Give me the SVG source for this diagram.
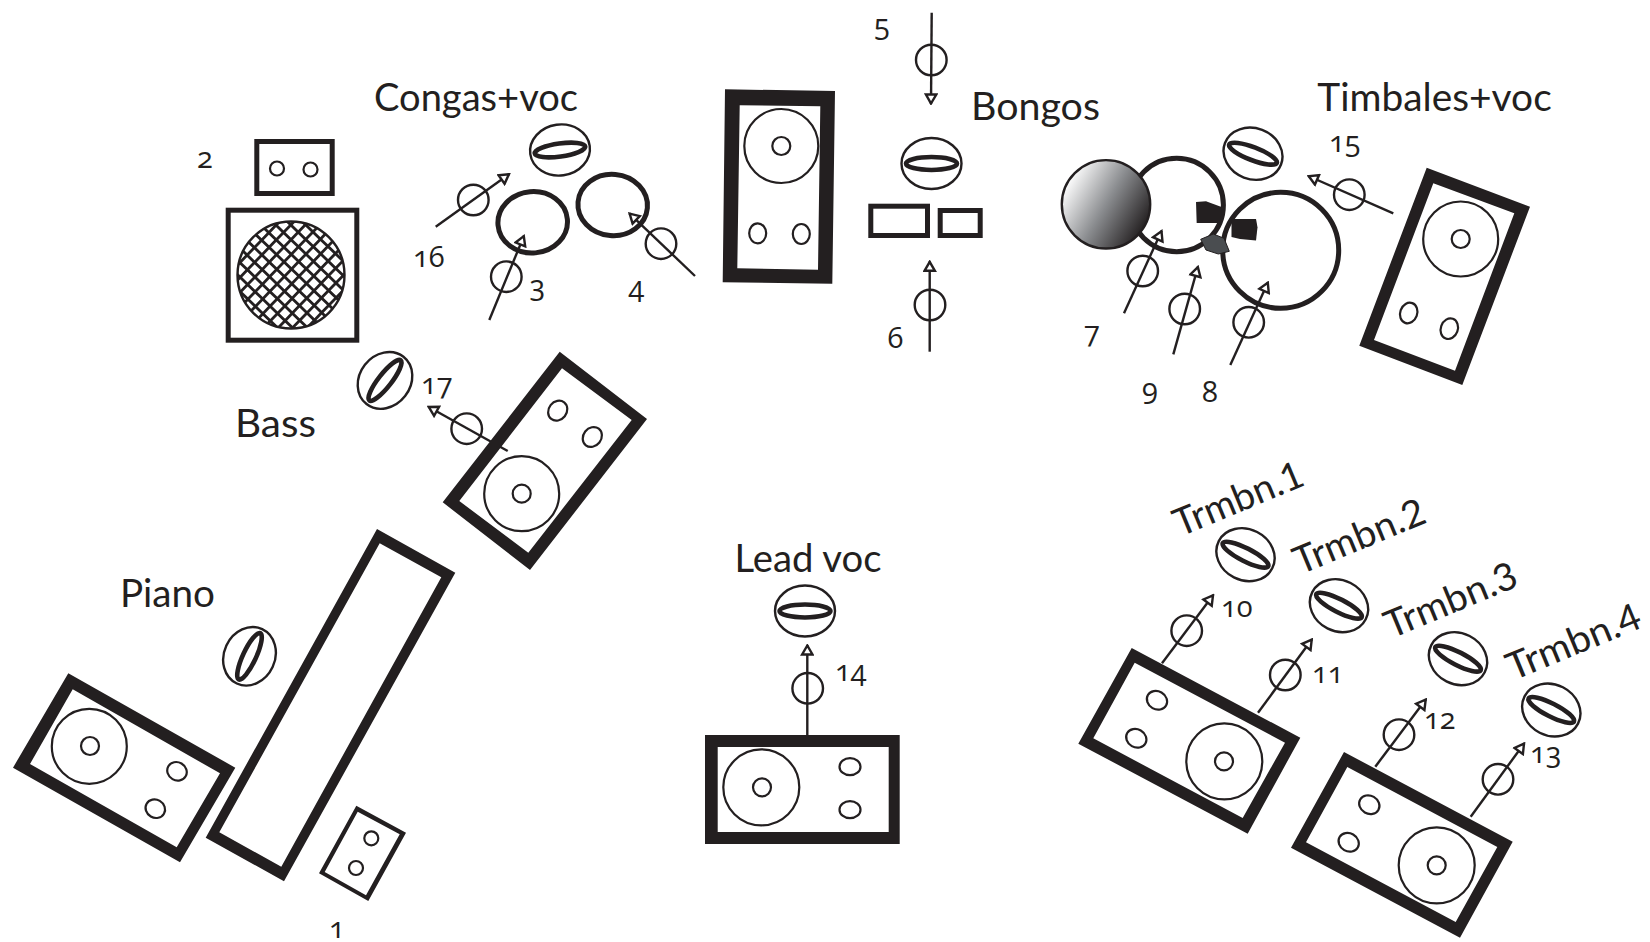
<svg xmlns="http://www.w3.org/2000/svg" width="1650" height="942" viewBox="0 0 1650 942">
<style>
text{font-family:"Open Sans","Noto Sans",sans-serif;fill:#231f20}
.name{font-family:Lato,"Open Sans",sans-serif;font-size:38px}
.num{font-size:29px;font-variant-numeric:oldstyle-nums;font-feature-settings:"onum"}
.box{fill:#231f20;fill-rule:evenodd}
.thin{fill:none;stroke:#231f20;stroke-width:2.2}
.mid{fill:#fff;stroke:#231f20;stroke-width:5}
.drum{fill:none;stroke:#231f20;stroke-width:5}
.ring{fill:none;stroke:#231f20;stroke-width:2.4}
.wire{fill:none;stroke:#231f20;stroke-width:2.4;marker-end:url(#tip)}
</style>
<defs>
<marker id="tip" markerUnits="userSpaceOnUse" markerWidth="14" markerHeight="14" viewBox="0 0 14 14" refX="12.5" refY="7" orient="auto">
<path d="M12 7L3 1.8V12.2Z" fill="#fff" stroke="#231f20" stroke-width="2.4"/>
</marker>
<g id="vocal"><ellipse rx="30" ry="25.5" class="ring"/><ellipse rx="25.5" ry="6.5" fill="none" stroke="#231f20" stroke-width="4.6"/></g>
<pattern id="hatch" width="10.4" height="10.4" patternUnits="userSpaceOnUse" patternTransform="rotate(44)">
<path d="M0 1.4H10.4M1.4 0V10.4" stroke="#231f20" stroke-width="2.8"/>
</pattern>
<linearGradient id="shade" gradientUnits="userSpaceOnUse" x1="1068" y1="180" x2="1146" y2="226">
<stop offset="0" stop-color="#fff"/><stop offset=".5" stop-color="#8a8c8f"/><stop offset="1" stop-color="#231f20"/>
</linearGradient>
</defs>

<g id="connectors">
<path class="wire" d="M435.7 226.7L509.3 174"/>
<path class="wire" d="M489.3 320L524 235.7"/>
<path class="wire" d="M695 276L629.3 213.3"/>
<path class="wire" d="M931.7 12.7L931 104"/>
<path class="wire" d="M929.7 351.7V261.3"/>
<path class="wire" d="M1124 313.3L1161.7 230.7"/>
<path class="wire" d="M1173.3 354.3L1198 266.7"/>
<path class="wire" d="M1230.3 365L1268 282.3"/>
<path class="wire" d="M1393.3 213.3L1308.3 176"/>
<path class="wire" d="M507.7 451L428.3 406.7"/>
<path class="wire" d="M807.3 735V645"/>
<path class="wire" d="M1162 663.3L1213.3 595"/>
<path class="wire" d="M1258 712.7L1312 639.3"/>
<path class="wire" d="M1375.3 766.7L1426 699.3"/>
<path class="wire" d="M1470.7 816.7L1524.3 743.3"/>
</g>

<g id="bass-amp">
<rect class="mid" x="228.2" y="210.2" width="128.6" height="130"/>
<circle cx="291" cy="275" r="53.5" fill="url(#hatch)" stroke="#231f20" stroke-width="2.4"/>
</g>
<g id="bass-head">
<rect class="mid" x="256.8" y="141.5" width="75.4" height="52"/>
<circle class="thin" cx="277" cy="168.5" r="7"/><circle class="thin" cx="310.5" cy="169.5" r="7"/>
</g>
<g id="conga-left"><ellipse class="drum" cx="532.7" cy="222.3" rx="34.8" ry="30.7" transform="rotate(-5 532.7 222.3)"/></g>
<g id="conga-right"><ellipse class="drum" cx="612.7" cy="205" rx="34.8" ry="30.7" transform="rotate(5 612.7 205)"/></g>
<g id="mic-congas"><use href="#vocal" transform="translate(560 150) rotate(-8)"/></g>
<g id="mic-bongos"><use href="#vocal" transform="translate(931.5 163.5)"/></g>
<g id="mic-timbales"><use href="#vocal" transform="translate(1253 153.7) rotate(21)"/></g>
<g id="mic-bass"><use href="#vocal" transform="translate(385 380.4) rotate(-52)"/></g>
<g id="mic-piano"><use href="#vocal" transform="translate(249.5 656.3) rotate(-65)"/></g>
<g id="mic-lead"><use href="#vocal" transform="translate(805 611)"/></g>
<g id="mic-trmbn1"><use href="#vocal" transform="translate(1245.5 554.7) rotate(27)"/></g>
<g id="mic-trmbn2"><use href="#vocal" transform="translate(1339 605.7) rotate(27)"/></g>
<g id="mic-trmbn3"><use href="#vocal" transform="translate(1458 658.7) rotate(27)"/></g>
<g id="mic-trmbn4"><use href="#vocal" transform="translate(1551.3 710) rotate(27)"/></g>

<g id="monitor-center">
<path class="box" d="M725 89.3L835 91L832.3 283.7L722.7 282.3ZM739.7 105.3L737.3 268.3L818 269.7L820.3 106.3Z"/>
<circle class="thin" cx="781.3" cy="146" r="37"/><circle class="thin" cx="781.3" cy="146" r="9"/>
<ellipse class="thin" cx="757.7" cy="233.3" rx="8.5" ry="10"/><ellipse class="thin" cx="801.3" cy="234" rx="8.5" ry="10"/>
</g>
<g id="bongos">
<rect class="mid" x="870.8" y="206.2" width="56.7" height="29.3"/>
<rect class="mid" x="940.2" y="210.5" width="40" height="25"/>
</g>
<g id="timbales">
<circle class="drum" cx="1176.7" cy="205" r="46.7"/>
<circle class="drum" cx="1280.7" cy="250.3" r="58"/>
<circle cx="1106" cy="204.3" r="44.2" fill="url(#shade)" stroke="#231f20" stroke-width="2.4"/>
<path fill="#231f20" d="M1196 202L1206 201.3L1221.5 207L1220.5 223L1196.7 223Z"/>
<path fill="#231f20" d="M1231.5 219H1256L1257.5 227.3L1256 240.5L1240 239L1231.5 237Z"/>
<path fill="#4a4d50" stroke="#231f20" d="M1200.7 239.3L1213.3 234L1224 238.3L1229.3 251.3L1218.3 254L1206 250Z"/>
</g>
<g id="monitor-timbales">
<path class="box" d="M1426.7 167.7L1530 206.7L1462.3 385L1359.3 345.7ZM1433.3 183.3L1374 340L1455 370.7L1514.3 213.3Z"/>
<circle class="thin" cx="1460.7" cy="239" r="37.5"/><circle class="thin" cx="1460.7" cy="239" r="9"/>
<ellipse class="thin" cx="1408.7" cy="313" rx="8.5" ry="10.5" transform="rotate(20 1408.7 313)"/>
<ellipse class="thin" cx="1449.3" cy="328.7" rx="8.5" ry="10.5" transform="rotate(20 1449.3 328.7)"/>
</g>
<g id="monitor-bass">
<path class="box" d="M559.7 351.7L647 419L530 570L442.7 502.3ZM562 368.3L459.3 501L528.3 552.7L631.7 420Z"/>
<circle class="thin" cx="521.7" cy="493.7" r="37.5"/><circle class="thin" cx="521.7" cy="493.7" r="9"/>
<ellipse class="thin" cx="557.7" cy="410.7" rx="9" ry="10.5" transform="rotate(38 557.7 410.7)"/>
<ellipse class="thin" cx="592.3" cy="437" rx="9" ry="10.5" transform="rotate(38 592.3 437)"/>
</g>
<g id="monitor-piano">
<path class="box" d="M68.3 673.3L235.3 767.7L180 862.3L13 767.7ZM72.7 689.3L30 764L176.7 847.3L220 773.3Z"/>
<circle class="thin" cx="89.3" cy="746.3" r="37.5"/><circle class="thin" cx="90" cy="746" r="9"/>
<ellipse class="thin" cx="177" cy="771.3" rx="10" ry="9" transform="rotate(30 177 771.3)"/>
<ellipse class="thin" cx="155.3" cy="808.7" rx="10" ry="9" transform="rotate(30 155.3 808.7)"/>
</g>
<g id="piano"><path class="box" d="M377 529L455.3 572.7L284 881.3L205.7 837.7ZM379.7 543.3L219.3 832.3L281.3 866.7L441.3 577.3Z"/></g>
<g id="piano-amp">
<path class="box" d="M356.3 805.7L406 832.7L368.3 901L319 873.3ZM357.7 811.7L324.7 872L366 895.3L399.7 834.3Z"/>
<circle class="thin" cx="371.3" cy="838.3" r="7"/><circle class="thin" cx="356" cy="868" r="7"/>
</g>
<g id="monitor-lead">
<path class="box" d="M705 735H899.7V844H705ZM717.7 747V832H888.7V747Z"/>
<circle class="thin" cx="761.3" cy="787.3" r="38"/><circle class="thin" cx="762" cy="787.3" r="9"/>
<ellipse class="thin" cx="850" cy="766.7" rx="10.5" ry="8.5"/><ellipse class="thin" cx="850" cy="809.7" rx="10.5" ry="8.5"/>
</g>
<g id="monitor-trmbn-a">
<path class="box" d="M1131.7 648L1300.3 737.7L1247.7 833.7L1078.3 743.7ZM1134.7 662.7L1093.3 738.3L1242.7 818L1285 742.7Z"/>
<circle class="thin" cx="1224.3" cy="761.3" r="38"/><circle class="thin" cx="1224" cy="761.3" r="9"/>
<ellipse class="thin" cx="1157" cy="700.3" rx="10.5" ry="9" transform="rotate(30 1157 700.3)"/>
<ellipse class="thin" cx="1136.3" cy="738.3" rx="10.5" ry="9" transform="rotate(30 1136.3 738.3)"/>
</g>
<g id="monitor-trmbn-b">
<path class="box" d="M1344 752L1512.7 841.7L1460 937.7L1291 847.7ZM1347.3 767L1306 842.3L1455.7 922L1497.3 847Z"/>
<circle class="thin" cx="1436.7" cy="865.3" r="38"/><circle class="thin" cx="1436.7" cy="865.3" r="9"/>
<ellipse class="thin" cx="1369.3" cy="804.7" rx="10.5" ry="9" transform="rotate(30 1369.3 804.7)"/>
<ellipse class="thin" cx="1348.7" cy="842.3" rx="10.5" ry="9" transform="rotate(30 1348.7 842.3)"/>
</g>

<g id="mic-1" ><text class="num" x="329" y="938">1</text></g>
<g id="mic-2"><text class="num" x="197" y="168">2</text></g>
<g id="mic-3"><circle class="ring" cx="506.3" cy="276.7" r="15.3"/><text class="num" x="529.5" y="296">3</text></g>
<g id="mic-4"><circle class="ring" cx="661" cy="243.7" r="15.3"/><text class="num" x="628.5" y="296.5">4</text></g>
<g id="mic-5"><circle class="ring" cx="931.3" cy="60" r="15.3"/><text class="num" x="874" y="35">5</text></g>
<g id="mic-6"><circle class="ring" cx="930" cy="305" r="15.3"/><text class="num" x="887.5" y="348">6</text></g>
<g id="mic-7"><circle class="ring" cx="1142.7" cy="271" r="15.3"/><text class="num" x="1084" y="342">7</text></g>
<g id="mic-8"><circle class="ring" cx="1248.7" cy="322.3" r="15.3"/><text class="num" x="1202" y="401.7">8</text></g>
<g id="mic-9"><circle class="ring" cx="1184.7" cy="309" r="15.3"/><text class="num" x="1142" y="398.5">9</text></g>
<g id="mic-10"><circle class="ring" cx="1186.7" cy="630.7" r="15.3"/><text class="num" x="1221" y="617.3">10</text></g>
<g id="mic-11"><circle class="ring" cx="1285.3" cy="675" r="15.3"/><text class="num" x="1312" y="682.7">11</text></g>
<g id="mic-12"><circle class="ring" cx="1399" cy="734.7" r="15.3"/><text class="num" x="1424" y="729">12</text></g>
<g id="mic-13"><circle class="ring" cx="1498" cy="779.3" r="15.3"/><text class="num" x="1530" y="762.7">13</text></g>
<g id="mic-14"><circle class="ring" cx="807.7" cy="688.3" r="15.3"/><text class="num" x="835" y="681">14</text></g>
<g id="mic-15"><circle class="ring" cx="1349.3" cy="194.7" r="15.3"/><text class="num" x="1329" y="151.7">15</text></g>
<g id="mic-16"><circle class="ring" cx="473.3" cy="200" r="15.3"/><text class="num" x="413" y="266.5">16</text></g>
<g id="mic-17"><circle class="ring" cx="466.7" cy="428.7" r="15.3"/><text class="num" x="421" y="394">17</text></g>

<g id="labels">
<text class="name" x="374" y="111" textLength="204" lengthAdjust="spacingAndGlyphs">Congas+voc</text>
<text class="name" x="971" y="120" textLength="129" lengthAdjust="spacingAndGlyphs">Bongos</text>
<text class="name" x="1317.3" y="110.7" textLength="234.4" lengthAdjust="spacingAndGlyphs">Timbales+voc</text>
<text class="name" x="235" y="436.5" textLength="81" lengthAdjust="spacingAndGlyphs">Bass</text>
<text class="name" x="120" y="607" textLength="95" lengthAdjust="spacingAndGlyphs">Piano</text>
<text class="name" x="734.5" y="571.5" textLength="147" lengthAdjust="spacingAndGlyphs">Lead voc</text>
<text class="name" transform="translate(1180 537) rotate(-22.5)" textLength="137" lengthAdjust="spacingAndGlyphs">Trmbn.1</text>
<text class="name" transform="translate(1300 575) rotate(-22.5)" textLength="139" lengthAdjust="spacingAndGlyphs">Trmbn.2</text>
<text class="name" transform="translate(1391 639) rotate(-22.5)" textLength="140" lengthAdjust="spacingAndGlyphs">Trmbn.3</text>
<text class="name" transform="translate(1513 681) rotate(-22.5)" textLength="142" lengthAdjust="spacingAndGlyphs">Trmbn.4</text>
</g>
</svg>
